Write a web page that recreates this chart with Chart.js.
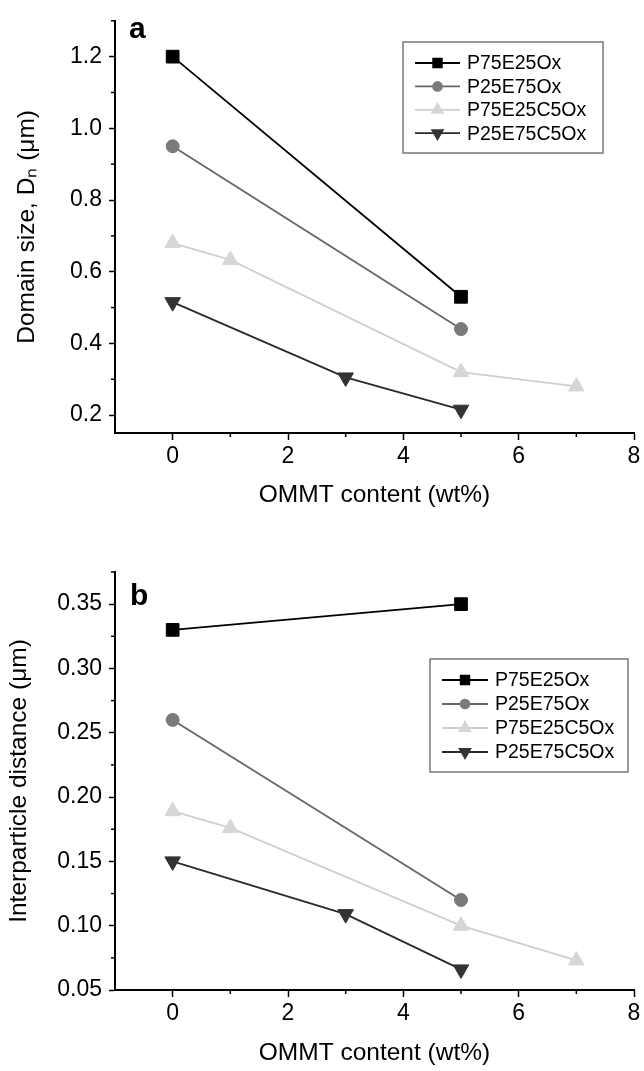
<!DOCTYPE html>
<html>
<head>
<meta charset="utf-8">
<script src="https://cdn.jsdelivr.net/npm/chart.js@4.4.0/dist/chart.umd.min.js"></script>
<style>
  body { margin: 0; background: #ffffff; }
  canvas { display: block; }
</style>
</head>
<body>
<canvas id="chart_a" width="644" height="535"></canvas>
<canvas id="chart_b" width="644" height="536"></canvas>
<script>
// series names + x positions (OMMT content, wt%)
const series_names = ["P75E25Ox", "P25E75Ox", "P75E25C5Ox", "P25E75C5Ox"];
const ommt_p75e25 = [0, 5];
const ommt_p25e75 = [0, 5];
const ommt_p75e25c5 = [0, 1, 5, 7];
const ommt_p25e75c5 = [0, 3, 5];

// (a) domain size Dn (um)
const domain_p75e25 = [1.2, 0.53];
const domain_p25e75 = [0.95, 0.44];
const domain_p75e25c5 = [0.68, 0.633, 0.32, 0.28];
const domain_p25e75c5 = [0.515, 0.305, 0.215];

// (b) interparticle distance (um)
const distance_p75e25 = [0.33, 0.35];
const distance_p25e75 = [0.26, 0.12];
const distance_p75e25c5 = [0.189, 0.176, 0.1, 0.073];
const distance_p25e75c5 = [0.15, 0.109, 0.066];

// ticks
const x_ticks = [0, 2, 4, 6, 8];
const x_minor = [1, 3, 5, 7];
const domain_ticks = [0.2, 0.4, 0.6, 0.8, 1.0, 1.2];
const domain_minor = [0.3, 0.5, 0.7, 0.9, 1.1, 1.3];
const distance_ticks = [0.05, 0.10, 0.15, 0.20, 0.25, 0.30, 0.35];
const distance_minor = [0.075, 0.125, 0.175, 0.225, 0.275, 0.325, 0.375];

const FONT = "'Liberation Sans', Arial, sans-serif";

const series_styles = [
    { line: "#000000", fill: "#000000", shape: "rect", radius: 9, rotation: 0 },
    { line: "#666666", fill: "#7a7a7a", shape: "circle", radius: 6.5, rotation: 0 },
    { line: "#cfcfcf", fill: "#d6d6d6", shape: "triangle", radius: 9, rotation: 0 },
    { line: "#2a2a2a", fill: "#333333", shape: "triangle", radius: 9, rotation: 180 }
];

const minor_ticks_plugin = {
    id: "minor_ticks",
    afterDraw(chart, args, opts) {
        const ctx = chart.ctx;
        const xs = chart.scales.x;
        const ys = chart.scales.y;
        ctx.save();
        ctx.strokeStyle = "#000";
        ctx.lineWidth = 1.5;
        for (const v of opts.x) {
            const px = xs.getPixelForValue(v);
            ctx.beginPath();
            ctx.moveTo(px, xs.top);
            ctx.lineTo(px, xs.top + opts.len);
            ctx.stroke();
        }
        for (const v of opts.y) {
            const py = ys.getPixelForValue(v);
            ctx.beginPath();
            ctx.moveTo(ys.right, py);
            ctx.lineTo(ys.right - opts.len, py);
            ctx.stroke();
        }
        ctx.restore();
    }
};

const legend_box_plugin = {
    id: "legend_box",
    afterDraw(chart, args, opts) {
        const ctx = chart.ctx;
        const b = opts.box;
        ctx.save();
        ctx.strokeStyle = "#777";
        ctx.lineWidth = 1.5;
        ctx.strokeRect(b.x, b.y, b.w, b.h);
        chart.data.datasets.forEach((ds, i) => {
            const st = series_styles[i];
            const y = opts.rowY + i * opts.rowGap;
            ctx.strokeStyle = st.line;
            ctx.lineWidth = 1.8;
            ctx.beginPath();
            ctx.moveTo(opts.lineX0, y);
            ctx.lineTo(opts.lineX1, y);
            ctx.stroke();
            ctx.fillStyle = st.fill;
            ctx.strokeStyle = st.fill;
            Chart.helpers.drawPoint(ctx, {
                pointStyle: st.shape,
                radius: st.radius * 0.68,
                rotation: st.rotation,
                borderWidth: 1
            }, (opts.lineX0 + opts.lineX1) / 2, y);
            ctx.fillStyle = "#000";
            ctx.font = "19.5px " + FONT;
            ctx.textBaseline = "middle";
            ctx.textAlign = "left";
            ctx.fillText(ds.label, opts.textX, y + 1);
        });
        ctx.restore();
    }
};

const panel_label_plugin = {
    id: "panel_label",
    afterDraw(chart, args, opts) {
        const ctx = chart.ctx;
        ctx.save();
        ctx.fillStyle = "#000";
        ctx.font = "bold 30px " + FONT;
        ctx.textBaseline = "alphabetic";
        ctx.fillText(opts.text, opts.x, opts.y);
        ctx.restore();
    }
};

function build_datasets(values) {
    const xs = [ommt_p75e25, ommt_p25e75, ommt_p75e25c5, ommt_p25e75c5];
    return series_names.map((name, i) => {
        const st = series_styles[i];
        return {
            label: name,
            data: xs[i].map((x, j) => ({ x: x, y: values[i][j] })),
            showLine: true,
            borderColor: st.line,
            backgroundColor: st.fill,
            borderWidth: 1.8,
            pointStyle: st.shape,
            pointRadius: st.radius,
            pointRotation: st.rotation,
            pointBackgroundColor: st.fill,
            pointBorderColor: st.fill,
            pointBorderWidth: 1
        };
    });
}

function plot_panel(canvasId, values, p) {
    const ctx = document.getElementById(canvasId);
    const tickFont = { family: FONT, size: 23 };
    const titleFont = { family: FONT, size: 24.5, lineHeight: 1.2 };

    new Chart(ctx, {
        type: "scatter",
        data: { datasets: build_datasets(values) },
        options: {
            responsive: false,
            animation: false,
            layout: { padding: { top: p.top, right: 7, left: 0, bottom: 0 } },
            plugins: {
                legend: { display: false },
                tooltip: { enabled: false },
                minor_ticks: { x: x_minor, y: p.yMinor, len: 4 },
                legend_box: p.legend,
                panel_label: p.label
            },
            scales: {
                x: {
                    type: "linear",
                    min: -1,
                    max: 8,
                    afterBuildTicks: (s) => { s.ticks = x_ticks.map(v => ({ value: v })); },
                    afterFit: (s) => { s.height = p.xHeight; },
                    grid: { drawOnChartArea: false, tickLength: 7, tickColor: "#000", tickWidth: 1.5 },
                    border: { display: true, color: "#000", width: 2 },
                    ticks: { font: tickFont, color: "#000", padding: 3, maxRotation: 0 },
                    title: {
                        display: true,
                        text: "OMMT content (wt%)",
                        font: titleFont,
                        color: "#000",
                        padding: { top: 0, bottom: p.xTitlePad }
                    }
                },
                y: {
                    type: "linear",
                    min: p.yMin,
                    max: p.yMax,
                    afterBuildTicks: (s) => { s.ticks = p.yTicks.map(v => ({ value: v })); },
                    afterFit: (s) => { s.width = 115; },
                    grid: { drawOnChartArea: false, tickLength: 6, tickColor: "#000", tickWidth: 1.5 },
                    border: { display: true, color: "#000", width: 2 },
                    ticks: {
                        font: tickFont,
                        color: "#000",
                        padding: 7,
                        callback: (v) => v.toFixed(p.decimals)
                    },
                    title: {
                        display: true,
                        text: p.yTitle,
                        font: titleFont,
                        color: "#000",
                        padding: { top: p.yTitlePad, bottom: 0 }
                    }
                }
            }
        },
        plugins: [minor_ticks_plugin, legend_box_plugin, panel_label_plugin]
    });
}

plot_panel("chart_a", [domain_p75e25, domain_p25e75, domain_p75e25c5, domain_p25e75c5], {
    top: 15,
    xHeight: 102,
    xTitlePad: 25,
    yMin: 0.15,
    yMax: 1.3,
    yTicks: domain_ticks,
    yMinor: domain_minor,
    decimals: 1,
    yTitle: "Domain size, D\u2099 (\u03bcm)",
    yTitlePad: 13,
    legend: { box: { x: 403, y: 42, w: 200, h: 111 }, rowY: 63, rowGap: 23.4, lineX0: 415, lineX1: 460, textX: 467 },
    label: { text: "a", x: 129, y: 38 }
});

plot_panel("chart_b", [distance_p75e25, distance_p25e75, distance_p75e25c5, distance_p25e75c5], {
    top: 37,
    xHeight: 81,
    xTitlePad: 3,
    yMin: 0.05,
    yMax: 0.375,
    yTicks: distance_ticks,
    yMinor: distance_minor,
    decimals: 2,
    yTitle: "Interparticle distance (\u03bcm)",
    yTitlePad: 5,
    legend: { box: { x: 430, y: 124, w: 198, h: 113 }, rowY: 145, rowGap: 24, lineX0: 442, lineX1: 488, textX: 495 },
    label: { text: "b", x: 130, y: 70 }
});
</script>
</body>
</html>
